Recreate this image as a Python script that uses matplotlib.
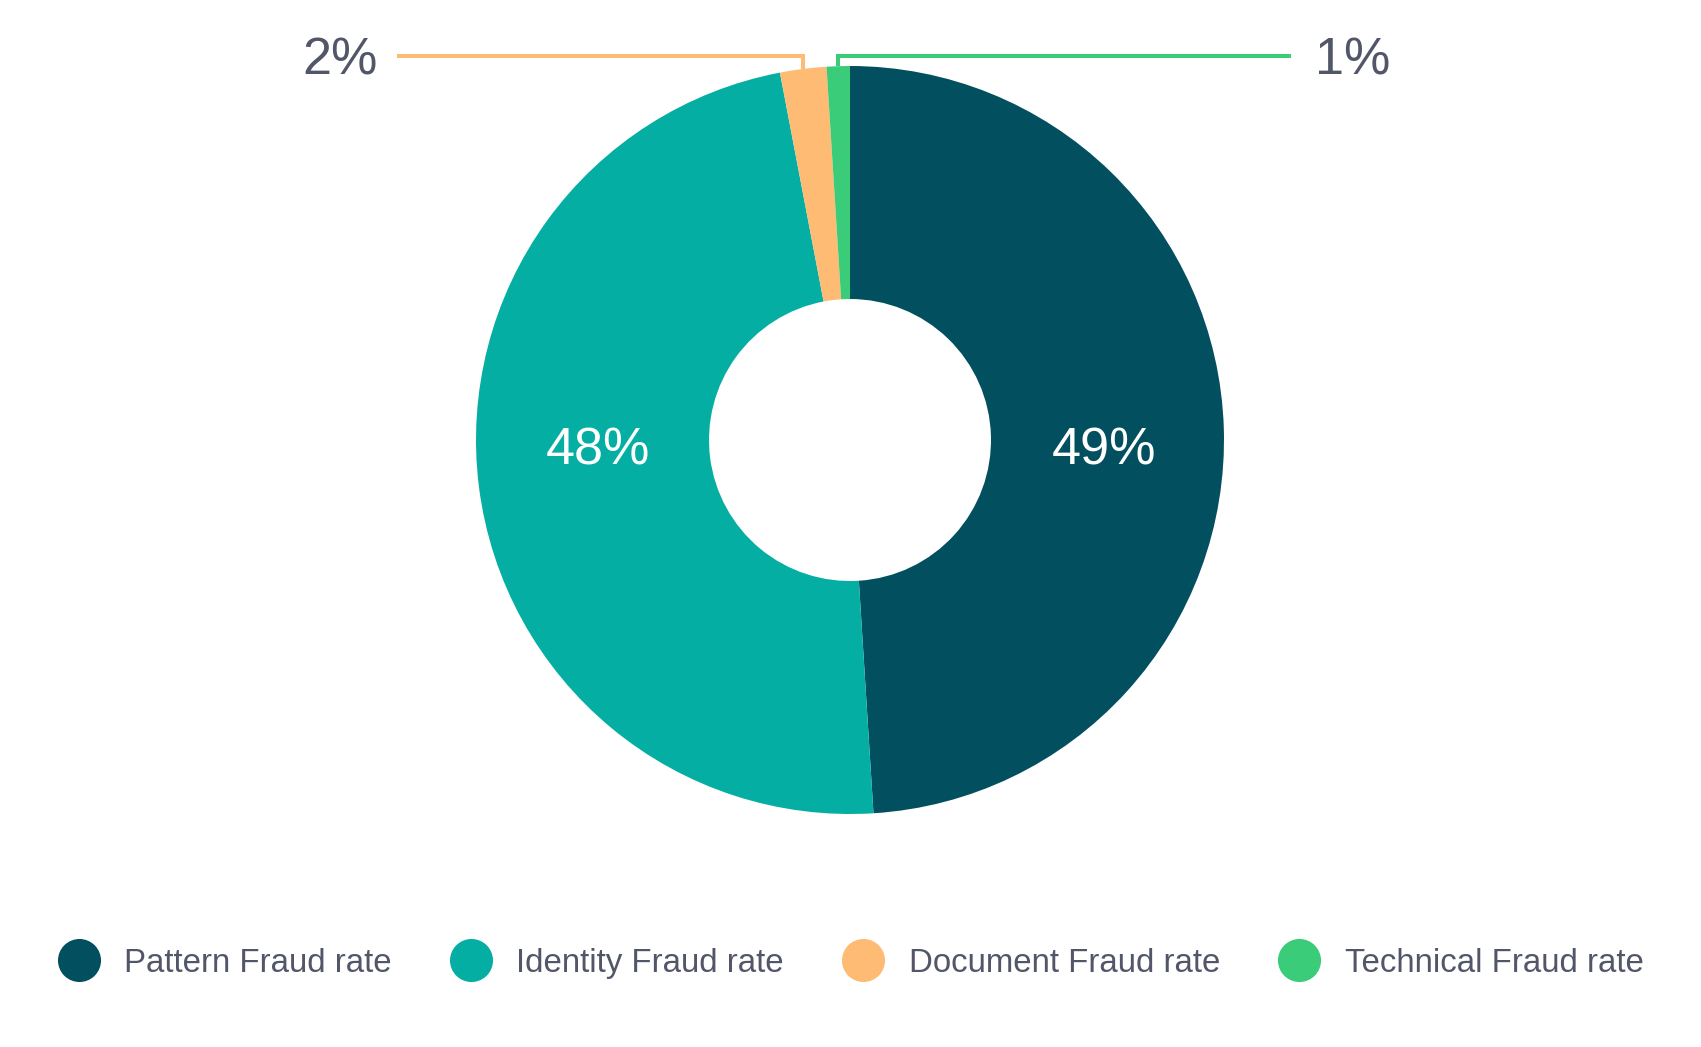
#!/usr/bin/env python3
"""Donut chart: share of fraud types."""

import numpy as np
import matplotlib
matplotlib.use("Agg")
import matplotlib.pyplot as plt
from matplotlib.lines import Line2D

categories = [
    "Pattern Fraud rate",
    "Identity Fraud rate",
    "Document Fraud rate",
    "Technical Fraud rate",
]
shares = [49, 48, 2, 1]
colors = ["#02505f", "#04aea2", "#fdbb74", "#3acc78"]
# which slices get their label inside the ring, which outside with a leader
inside = [True, True, False, False]

TEXT_GREY = "#525669"


def main():
    """Main Function."""
    plt.rcParams.update({"font.family": ["Liberation Sans", "DejaVu Sans"]})

    fig = plt.figure(figsize=(17.01, 10.47), dpi=100)
    ax = fig.add_axes([0, 0, 1, 1])

    wedges, _ = ax.pie(
        shares,
        colors=colors,
        startangle=90,
        counterclock=False,
        radius=1.0,
        wedgeprops=dict(width=0.623, linewidth=0),
    )

    elbow_y = 1.027
    for w, val, col, ins in zip(wedges, shares, colors, inside):
        mid = np.deg2rad((w.theta1 + w.theta2) / 2)
        if ins:
            # inner labels sit on one horizontal line, x from the slice angle
            r = 0.68
            ax.text(r * np.cos(mid), -0.03, f"{val}%",
                    ha="center", va="center", color="white", fontsize=37.5)
        else:
            x0, y0 = np.cos(mid), np.sin(mid)
            if x0 < -0.05:
                x_end, x_txt, ha = -1.211, -1.262, "right"
            else:
                x_end, x_txt, ha = 1.179, 1.243, "left"
            ax.plot([x0, x0, x_end], [y0, elbow_y, elbow_y],
                    color=col, linewidth=2.9, solid_capstyle="butt",
                    solid_joinstyle="miter")
            ax.text(x_txt, 0.976, f"{val}%", ha=ha, va="baseline",
                    color=TEXT_GREY, fontsize=37.5)

    # 1 data unit = outer radius (374 px); set after pie(), which resets limits
    ax.set_xlim(-850 / 374, 851 / 374)
    ax.set_ylim(-607 / 374, 440 / 374)
    ax.set_aspect("equal")
    ax.axis("off")

    handles = [
        Line2D([], [], marker="o", linestyle="", markersize=31,
               markerfacecolor=c, markeredgewidth=0)
        for c in colors
    ]
    leg = fig.legend(
        handles, categories,
        loc="center", bbox_to_anchor=(0.5, 0.080),
        ncol=4, frameon=False, fontsize=23.8,
        handlelength=1.3, handletextpad=0.72, columnspacing=1.75,
        borderaxespad=0, borderpad=0,
    )
    for t in leg.get_texts():
        t.set_color(TEXT_GREY)

    fig.savefig("out.png", dpi=100)


if __name__ == "__main__":
    main()
